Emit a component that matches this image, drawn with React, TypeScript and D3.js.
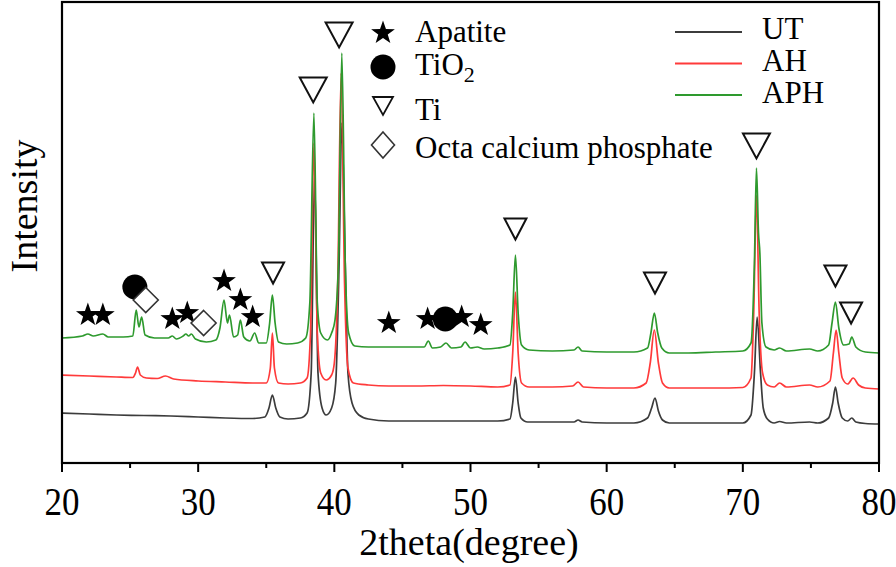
import React from "react";
import * as d3 from "d3";

// ---- Data (2theta in degrees, intensity in arbitrary units) ----
const utSeries: [number, number][] = [
  [20, 50], [22, 49], [24, 48], [26, 47.5], [28, 47], [30, 46], [32, 45], [34, 44.5],
  [34.9, 46], [35.2, 55], [35.45, 68], [35.7, 55], [36.0, 46], [36.6, 44], [37.5, 45],
  [38.0, 50], [38.3, 90], [38.55, 290], [38.8, 90], [39.1, 55], [39.4, 48], [39.8, 55],
  [40.1, 80], [40.35, 200], [40.55, 340], [40.8, 200], [41.0, 90], [41.3, 60], [41.8, 48],
  [42.5, 44], [44, 42], [46, 42], [48, 42], [50, 42], [52, 42], [52.9, 44], [53.1, 60],
  [53.3, 86], [53.5, 60], [53.7, 45], [54.2, 41], [56, 41], [57.6, 41], [57.9, 43],
  [58.2, 41], [60, 40], [62, 40], [63.0, 45], [63.3, 55], [63.55, 65], [63.8, 52],
  [64.1, 43], [64.6, 40], [66, 40], [68, 40], [70, 40], [70.6, 48], [70.85, 90],
  [71.05, 146], [71.3, 90], [71.5, 55], [71.8, 44], [72.3, 40], [72.7, 41.5], [73.2, 40],
  [74.9, 41], [75.5, 40], [76.3, 45], [76.6, 60], [76.8, 76], [77.0, 60], [77.3, 45],
  [77.7, 42], [78.0, 45], [78.3, 41], [79, 39.5], [80, 39],
];

const ahSeries: [number, number][] = [
  [20, 88], [22, 87], [24, 86], [25.2, 85.5], [25.4, 90], [25.55, 96], [25.75, 88],
  [26.2, 85], [27.0, 84.5], [27.6, 87], [28.2, 84], [30, 82], [32, 81], [34, 80],
  [35.0, 80], [35.3, 95], [35.45, 130], [35.6, 95], [35.9, 80], [36.6, 79], [37.5, 80],
  [38.0, 85], [38.25, 130], [38.5, 320], [38.75, 130], [39.0, 90], [39.4, 83], [39.8, 88],
  [40.0, 100], [40.25, 180], [40.5, 390], [40.75, 180], [41.0, 95], [41.4, 80], [42.5, 78],
  [44, 77], [46, 77], [48, 77.5], [50, 77], [52, 76], [52.9, 78], [53.1, 110], [53.3, 171],
  [53.5, 110], [53.75, 80], [54.3, 76], [56, 76], [57.5, 77], [57.9, 81], [58.3, 76],
  [60, 75], [62, 75], [62.9, 80], [63.2, 100], [63.5, 133], [63.8, 100], [64.1, 80],
  [64.6, 75], [66, 75], [68, 75], [70, 75.5], [70.6, 85], [70.8, 150], [71.0, 268],
  [71.2, 150], [71.45, 90], [71.8, 78], [72.3, 76], [72.7, 80], [73.2, 76], [74.9, 78],
  [75.5, 76], [76.4, 82], [76.65, 110], [76.85, 133], [77.05, 110], [77.3, 85], [77.7, 79],
  [78.1, 85], [78.5, 78], [79, 75], [80, 74],
];

const aphSeries: [number, number][] = [
  [20, 125], [21.5, 127], [21.9, 129], [22.3, 127], [23.0, 129], [23.4, 126], [24.5, 126],
  [25.2, 127], [25.45, 153], [25.65, 136], [25.85, 146], [26.1, 128], [26.8, 125],
  [27.8, 125], [28.1, 127], [28.4, 124], [28.9, 127], [29.1, 129], [29.3, 127], [29.5, 129],
  [29.8, 124], [30.6, 121], [31.3, 123], [31.6, 135], [31.9, 163], [32.15, 140], [32.3, 148],
  [32.6, 126], [32.9, 128], [33.1, 143], [33.35, 126], [33.8, 122], [34.15, 130],
  [34.45, 120], [35.0, 120], [35.25, 140], [35.45, 168], [35.65, 140], [35.9, 121],
  [36.5, 119], [37.3, 120], [37.9, 125], [38.2, 160], [38.5, 350], [38.75, 160], [39.0, 130],
  [39.5, 123], [39.8, 130], [40.05, 143], [40.3, 200], [40.55, 410], [40.8, 200],
  [41.05, 130], [41.5, 117], [42.5, 116], [44, 116], [46.6, 116], [46.9, 122], [47.2, 115],
  [47.8, 116], [48.2, 120], [48.6, 115], [49.3, 116], [49.6, 121], [50.0, 115], [50.5, 116],
  [51, 114], [52, 115], [52.9, 118], [53.1, 150], [53.3, 208], [53.5, 150], [53.75, 118],
  [54.3, 113], [56, 112], [57.6, 113], [57.9, 116], [58.2, 112], [60, 111], [62, 111],
  [63.0, 115], [63.25, 130], [63.5, 150], [63.75, 130], [64.05, 115], [64.6, 110], [66, 110],
  [68, 111], [70, 112], [70.6, 120], [70.85, 200], [71.0, 295], [71.15, 230], [71.25, 210],
  [71.4, 140], [71.7, 116], [72.3, 113], [72.7, 115], [73.2, 112], [74.9, 114], [75.5, 112],
  [76.3, 118], [76.55, 140], [76.8, 161], [77.05, 135], [77.4, 118], [77.8, 119], [78.0, 126],
  [78.3, 116], [79, 111], [80, 110],
];

const seriesNames = ["UT", "AH", "APH"];
const seriesColors = ["#3c3c3c", "#ff3a3a", "#2e9a2e"];

// Phase markers (2theta, intensity position)
const apatiteMarks: [number, number][] = [
  [21.9, 148], [23.0, 148], [28.1, 144], [29.2, 150], [31.9, 182], [33.1, 163], [34.0, 146],
  [44.0, 140], [46.85, 144], [49.35, 146], [50.75, 138],
];
const tio2Marks: [number, number][] = [[25.35, 176], [48.15, 144]];
const ocpMarks: [number, number][] = [[26.15, 163], [30.4, 140]];
// [2theta, intensity, large?]
const tiMarks: [number, number, number][] = [
  [35.5, 190, 0], [38.45, 373, 1], [40.35, 428, 1], [53.3, 234, 0], [63.55, 180, 0],
  [71.0, 317, 1], [76.8, 187, 0], [77.95, 150, 0],
];

const phaseLabels = ["Apatite", "TiO", "Ti", "Octa calcium phosphate"];
const xTicks = [20, 30, 40, 50, 60, 70, 80];
const xMinorTicks = [25, 35, 45, 55, 65, 75];

const W = 896;
const H = 567;
const M = { left: 62, right: 879, top: 2, bottom: 463 };
const FONT = "'Liberation Serif', 'Times New Roman', serif";

function starPath(R: number) {
  const r = R * 0.4;
  const pts: string[] = [];
  for (let i = 0; i < 10; i++) {
    const a = -Math.PI / 2 + (i * Math.PI) / 5;
    const rr = i % 2 === 0 ? R : r;
    pts.push(`${(rr * Math.cos(a)).toFixed(2)},${(rr * Math.sin(a)).toFixed(2)}`);
  }
  return "M" + pts.join("L") + "Z";
}
function triPath(w: number, h: number) {
  return `M${-w / 2},${-h / 2}L${w / 2},${-h / 2}L0,${h / 2}Z`;
}
function diamondPath(a: number, b: number) {
  return `M0,${-b}L${a},0L0,${b}L${-a},0Z`;
}

export default function App() {
  const x = d3.scaleLinear().domain([20, 80]).range([M.left, M.right]);
  const y = d3.scaleLinear().domain([0, 461]).range([M.bottom, M.top]);
  const line = d3
    .line<[number, number]>()
    .x((d) => x(d[0]))
    .y((d) => y(d[1]))
    .curve(d3.curveMonotoneX);
  const all = [utSeries, ahSeries, aphSeries];
  const star = starPath(12.5);

  return (
    <svg
      width={W}
      height={H}
      style={{ position: "absolute", left: 0, top: 0, background: "#fff" }}
      fontFamily={FONT}
    >
      <rect x={0} y={0} width={W} height={H} fill="#fff" />
      {/* series */}
      {all.map((s, i) => (
        <path key={i} d={line(s) || ""} fill="none" stroke={seriesColors[i]} strokeWidth={1.7} />
      ))}
      {/* markers */}
      {apatiteMarks.map((m, i) => (
        <path key={"s" + i} d={star} transform={`translate(${x(m[0])},${y(m[1])})`} fill="#000" />
      ))}
      {tio2Marks.map((m, i) => (
        <circle key={"c" + i} cx={x(m[0])} cy={y(m[1])} r={12.5} fill="#000" />
      ))}
      {ocpMarks.map((m, i) => (
        <path
          key={"d" + i}
          d={diamondPath(12.5, 12.5)}
          transform={`translate(${x(m[0])},${y(m[1])})`}
          fill="#fff"
          stroke="#333"
          strokeWidth={1.6}
        />
      ))}
      {tiMarks.map((m, i) => (
        <path
          key={"t" + i}
          d={m[2] ? triPath(27, 25) : triPath(22, 21)}
          transform={`translate(${x(m[0])},${y(m[1])})`}
          fill="none"
          stroke="#111"
          strokeWidth={2}
        />
      ))}
      {/* frame */}
      <rect
        x={M.left}
        y={M.top}
        width={M.right - M.left}
        height={M.bottom - M.top}
        fill="none"
        stroke="#000"
        strokeWidth={2.2}
      />
      {/* x ticks */}
      {xTicks.map((t) => (
        <line key={"mt" + t} x1={x(t)} x2={x(t)} y1={M.bottom} y2={M.bottom + 9} stroke="#000" strokeWidth={2} />
      ))}
      {xMinorTicks.map((t) => (
        <line key={"mn" + t} x1={x(t)} x2={x(t)} y1={M.bottom} y2={M.bottom + 5} stroke="#000" strokeWidth={2} />
      ))}
      {xTicks.map((t) => (
        <text
          key={"tl" + t}
          transform={`translate(${x(t)},515) scale(1,1.12)`}
          textAnchor="middle"
          fontSize={35}
          fill="#000"
        >
          {t}
        </text>
      ))}
      <text x={469} y={555} textAnchor="middle" fontSize={38} fill="#000">
        2theta(degree)
      </text>
      <text
        transform={`translate(37,206) rotate(-90)`}
        textAnchor="middle"
        fontSize={38}
        fill="#000"
      >
        Intensity
      </text>
      {/* phase legend */}
      <path d={star} transform="translate(383,33)" fill="#000" />
      <circle cx={383} cy={67} r={12.5} fill="#000" />
      <path d={triPath(20, 18)} transform="translate(383,106)" fill="none" stroke="#111" strokeWidth={1.8} />
      <path d={diamondPath(11.5, 13)} transform="translate(383,145)" fill="none" stroke="#333" strokeWidth={1.6} />
      <text x={415} y={42} fontSize={31} fill="#000">{phaseLabels[0]}</text>
      <text x={415} y={75} fontSize={31} fill="#000">
        {phaseLabels[1]}
        <tspan fontSize={22} dy={7}>2</tspan>
      </text>
      <text x={415} y={120} fontSize={31} fill="#000">{phaseLabels[2]}</text>
      <text x={415} y={158} fontSize={31} fill="#000">{phaseLabels[3]}</text>
      {/* series legend */}
      {seriesNames.map((n, i) => (
        <g key={n}>
          <line x1={675} x2={742} y1={32 + i * 31.5} y2={32 + i * 31.5} stroke={seriesColors[i]} strokeWidth={2} />
          <text x={762} y={39 + i * 32} fontSize={31} fill="#000">
            {n}
          </text>
        </g>
      ))}
    </svg>
  );
}
